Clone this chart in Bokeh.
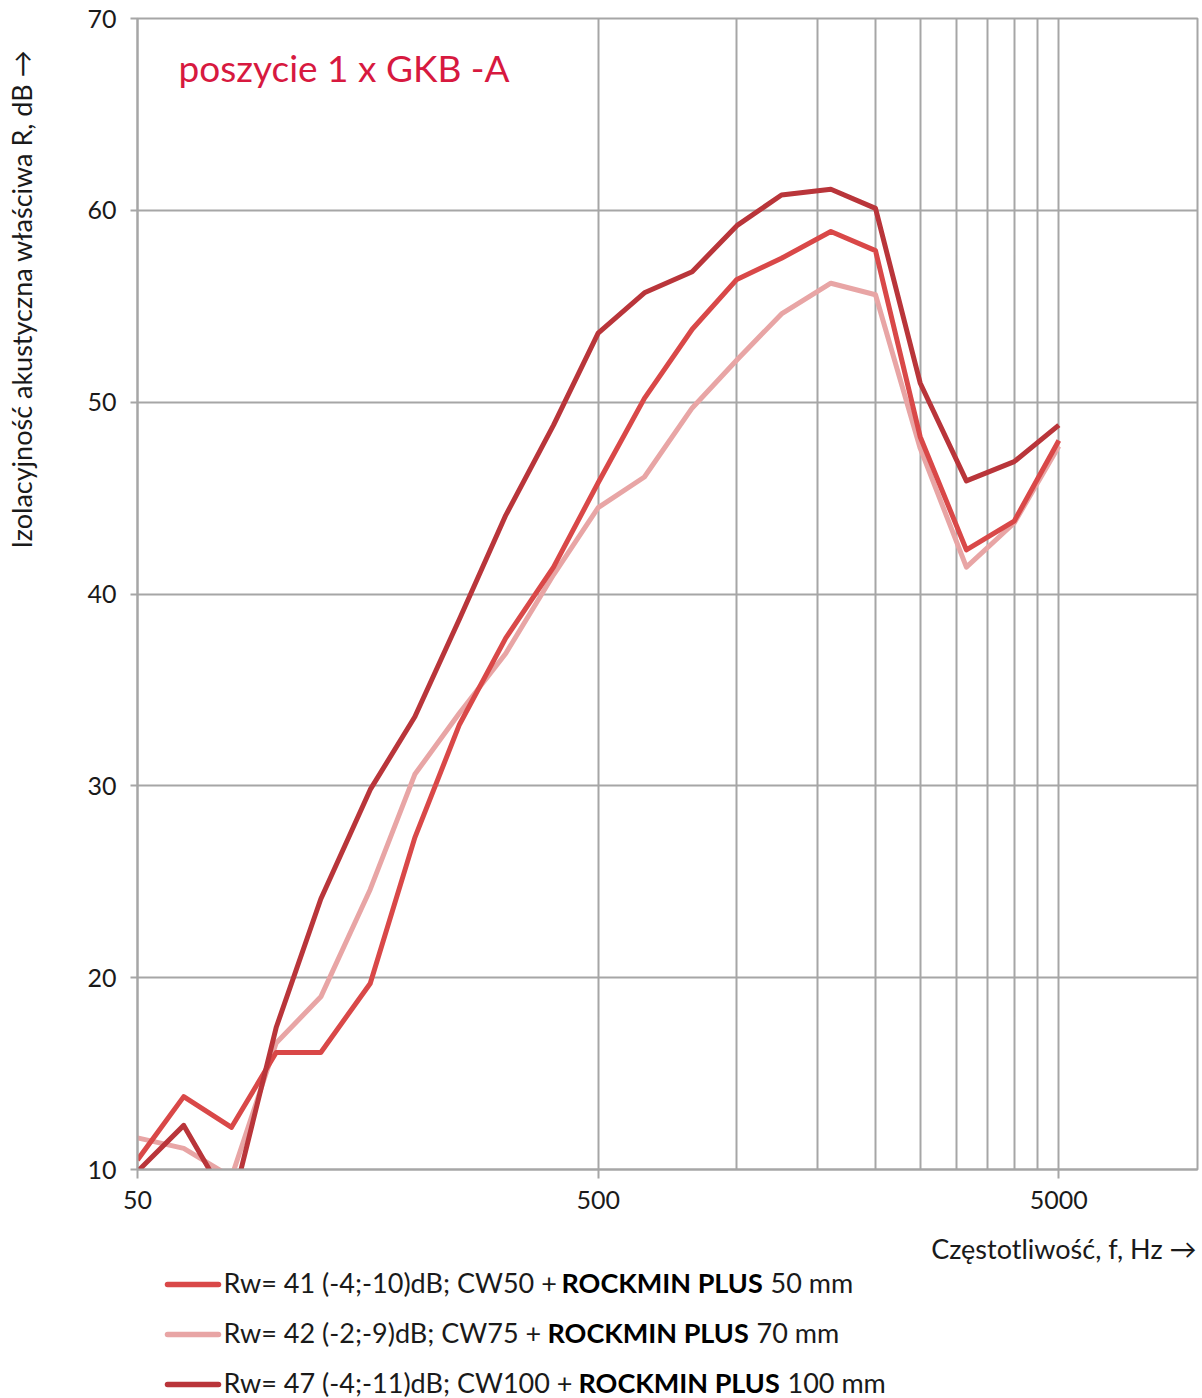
from math import pi
from bokeh.plotting import figure
from bokeh.models import FixedTicker, Label, Range1d
from bokeh.layouts import gridplot
from bokeh.core.properties import value
from bokeh.embed import file_html
from bokeh.resources import INLINE

# ---- data ----
freq = [50, 63, 80, 100, 125, 160, 200, 250, 315, 400, 500, 630, 800,
        1000, 1250, 1600, 2000, 2500, 3150, 4000, 5000]
r_cw50 = [10.5, 13.8, 12.2, 16.1, 16.1, 19.7, 27.3, 33.2, 37.7, 41.4, 45.8,
          50.2, 53.8, 56.4, 57.5, 58.9, 57.9, 48.2, 42.3, 43.8, 48.0]
r_cw75 = [11.65, 11.1, 9.6, 16.6, 19.0, 24.6, 30.6, 33.8, 36.9, 41.0, 44.5,
          46.1, 49.7, 52.2, 54.6, 56.2, 55.6, 47.6, 41.4, 43.7, 47.7]
r_cw100 = [9.9, 12.3, 8.0, 17.4, 24.1, 29.8, 33.6, 38.7, 44.1, 48.8, 53.6,
           55.7, 56.8, 59.2, 60.8, 61.1, 60.1, 51.0, 45.9, 46.9, 48.8]

x_ticks = [50, 500, 5000]
x_tick_labels = ["50", "500", "5000"]
x_grid_ticks = [500, 1000, 1500, 2000, 2500, 3000, 3500, 4000, 4500, 5000]
y_ticks = [10, 20, 30, 40, 50, 60, 70]

title_text = "poszycie 1 x GKB -A"
y_label = "Izolacyjność akustyczna właściwa R, dB \u2192"
x_label = "Częstotliwość, f, Hz \u2192"
legend_prefix = ["Rw= 41 (-4;-10)dB; CW50 +", "Rw= 42 (-2;-9)dB; CW75 +", "Rw= 47 (-4;-11)dB; CW100 +"]
legend_bold = ["ROCKMIN PLUS", "ROCKMIN PLUS", "ROCKMIN PLUS"]
legend_suffix = ["50 mm", "70 mm", "100 mm"]

series = [r_cw50, r_cw75, r_cw100]
colors = ["#d94848", "#e8a5a5", "#b9353a"]
draw_order = [1, 0, 2]

# ---- styling / layout ----
FONT = "Lato"
TXT = "#1a1a1a"
GRID = "#a6a6a6"
W_LAB = 40           # left strip holding the y-axis title
W_MAIN = 1162
H_MAIN = 1225
H_LEG = 173
B_LEFT, B_RIGHT, B_TOP, B_BOTTOM = 97, 5, 18, 56
FRAME_H = H_MAIN - B_TOP - B_BOTTOM

p = figure(width=W_MAIN, height=H_MAIN, x_axis_type="log",
           x_range=Range1d(50, 10000), y_range=Range1d(10, 70),
           output_backend="svg", toolbar_location=None,
           min_border_left=B_LEFT, min_border_right=B_RIGHT,
           min_border_top=B_TOP, min_border_bottom=B_BOTTOM)
p.background_fill_color = "white"
p.border_fill_color = "white"
p.outline_line_color = GRID
p.outline_line_width = 2

p.xgrid.ticker = FixedTicker(ticks=x_grid_ticks)
p.ygrid.ticker = FixedTicker(ticks=y_ticks)
for g in (p.xgrid, p.ygrid):
    g.grid_line_color = GRID
    g.grid_line_width = 2

p.xaxis.ticker = FixedTicker(ticks=x_ticks)
p.xaxis.major_label_overrides = {t: s for t, s in zip(x_ticks, x_tick_labels)}
p.yaxis.ticker = FixedTicker(ticks=y_ticks)
for ax in (p.xaxis, p.yaxis):
    ax.axis_line_color = GRID
    ax.axis_line_width = 2
    ax.major_tick_line_color = GRID
    ax.major_tick_line_width = 2
    ax.major_tick_in = 0
    ax.minor_tick_line_color = None
    ax.major_label_text_font = FONT
    ax.major_label_text_font_size = "25px"
    ax.major_label_text_color = TXT
p.xaxis.major_tick_out = 9
p.xaxis.major_label_standoff = 12
p.yaxis.major_tick_out = 7
p.yaxis.major_label_standoff = 14

for i in draw_order:
    p.line(freq, series[i], line_color=colors[i], line_width=5, line_join="round")

# title inside plot
p.add_layout(Label(x=41, y=1102, x_units="screen", y_units="screen", text=title_text,
                   text_font=FONT, text_font_size="37px", text_color="#d7193f",
                   text_align="left", text_baseline="alphabetic"))

# ---- left strip: y-axis title (top aligned like the reference) ----
ylab = figure(width=W_LAB, height=H_MAIN, x_range=Range1d(0, W_LAB), y_range=Range1d(0, FRAME_H),
              output_backend="svg", toolbar_location=None,
              x_axis_location=None, y_axis_location=None,
              min_border_left=0, min_border_right=0,
              min_border_top=B_TOP, min_border_bottom=B_BOTTOM)
ylab.grid.visible = False
ylab.outline_line_color = None
ylab.text(x=[21], y=[621], text=[y_label], angle=pi / 2, text_font=value(FONT),
          text_font_size="27px", text_color=TXT, text_align="left", text_baseline="middle")

# ---- bottom strip: x-axis title and legend (mixed bold text) ----
leg = figure(width=W_MAIN, height=H_LEG, x_range=Range1d(137, 1197), y_range=Range1d(0, H_LEG),
             output_backend="svg", toolbar_location=None,
             x_axis_location=None, y_axis_location=None,
             min_border_left=B_LEFT, min_border_right=B_RIGHT,
             min_border_top=0, min_border_bottom=0)
leg.grid.visible = False
leg.outline_line_color = None

leg.text(x=[1196], y=[150], text=[x_label], text_font=value(FONT), text_font_size="27px",
         text_color=TXT, text_align="right", text_baseline="alphabetic")

row_y = [116, 66, 16]
sw_y = [114, 64, 14]
bold_x = [561, 547, 578]
suffix_x = [770, 756, 787]
leg.segment(x0=[167] * 3, x1=[218] * 3, y0=sw_y, y1=sw_y, line_color=colors,
            line_width=5.5, line_cap="round")
leg.text(x=[223] * 3, y=row_y, text=legend_prefix, text_font=value(FONT),
         text_font_size="27px", text_color=TXT, text_align="left", text_baseline="alphabetic")
leg.text(x=bold_x, y=row_y, text=legend_bold, text_font=value(FONT),
         text_font_size="27px", text_font_style="bold", text_color="#000000",
         text_align="left", text_baseline="alphabetic")
leg.text(x=suffix_x, y=row_y, text=legend_suffix, text_font=value(FONT),
         text_font_size="27px", text_color=TXT, text_align="left", text_baseline="alphabetic")

layout = gridplot([[ylab, p], [None, leg]], toolbar_location=None)
open("out.html", "w").write(file_html(layout, INLINE))
